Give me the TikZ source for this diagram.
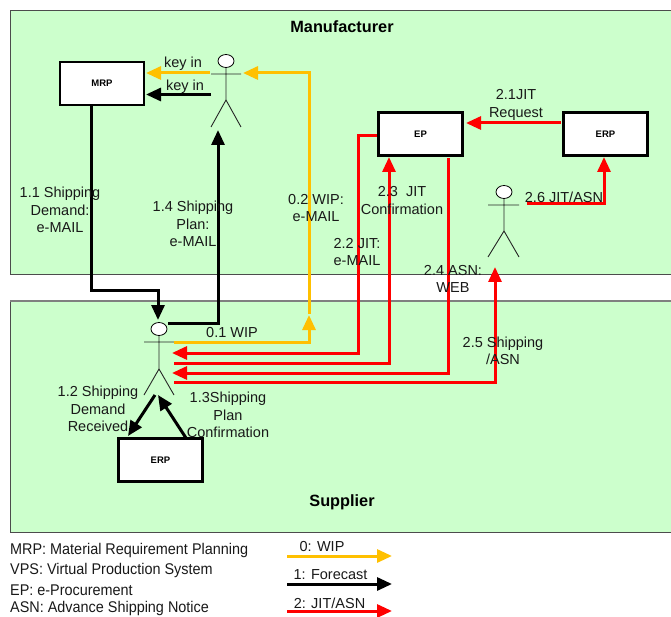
\documentclass[tikz,border=0pt]{standalone}
\usepackage{fontspec}
\setmainfont{Liberation Sans}
\usetikzlibrary{arrows.meta,shapes.geometric}
\definecolor{panelgreen}{HTML}{CCFFCC}
\definecolor{wipyellow}{HTML}{FFC000}
\definecolor{jitred}{HTML}{FF0000}
\tikzset{
  panel/.style={draw=black!70,fill=panelgreen,line width=1pt},
  sysbox/.style={draw=black,fill=white,line width=2.8pt,inner sep=0pt,font=\fontsize{9.5}{10}\selectfont\bfseries},
  lbl/.style={inner sep=0pt,align=center,text=black!90,font=\fontsize{14.5}{17.6}\selectfont},
  ttl/.style={inner sep=0pt,font=\fontsize{16.3}{18}\selectfont\bfseries},
  legtxt/.style={inner sep=0pt,anchor=west,text=black!90,xscale=0.93,transform shape,font=\fontsize{15.5}{18}\selectfont},
  head/.style={draw=black,fill=white,ellipse,line width=.8pt,minimum width=16pt,minimum height=13pt,inner sep=0pt},
  actor/.style={draw=black!85,line width=.9pt},
  flow/.style={line width=3pt,-{Triangle[length=15pt,width=13pt]}},
  black flow/.style={flow,draw=black},
  yellow flow/.style={flow,draw=wipyellow},
  red flow/.style={flow,draw=jitred},
}
\begin{document}
\begin{tikzpicture}[x=1pt,y=-1pt]
\useasboundingbox (0,0) rectangle (671,617);
% panels
\path[panel] (10,11) rectangle (690,275);
\path[panel] (10,301) rectangle (690,532);
\draw[black!50,line width=1.2pt] (10,301) -- (671,301);
\node[ttl] (mfr) at (342,27) {Manufacturer};
\node[ttl] (sup) at (342,502) {Supplier};
% boxes
\node[sysbox,minimum width=84pt,minimum height=43pt] (mrp) at (102,83.5) {MRP};
\node[sysbox,minimum width=84pt,minimum height=43pt] (ep) at (420.5,134) {EP};
\node[sysbox,minimum width=84pt,minimum height=43pt] (erpm) at (605.5,134) {ERP};
\node[sysbox,minimum width=84pt,minimum height=43pt] (erps) at (160.5,460) {ERP};
% actors
\node[head] (ha) at (226,61) {};
\coordinate (aL) at (211,74); \coordinate (aR) at (241,74);
\coordinate (aH) at (226,100);
\coordinate (aF1) at (211,127); \coordinate (aF2) at (241,127);
\draw[actor] (ha.south) -- (aH) (aL) -- (aR) (aF1) -- (aH) -- (aF2);
\node[head] (hb) at (504,192) {};
\coordinate (bL) at (488,205); \coordinate (bR) at (519,205);
\coordinate (bH) at (504,231);
\coordinate (bF1) at (488,257); \coordinate (bF2) at (519,257);
\draw[actor] (hb.south) -- (bH) (bL) -- (bR) (bF1) -- (bH) -- (bF2);
\node[head] (hc) at (159,329) {};
\coordinate (cL) at (144,342); \coordinate (cR) at (174,342);
\coordinate (cH) at (159,369);
\coordinate (cF1) at (144,395); \coordinate (cF2) at (174,395);
\draw[actor] (hc.south) -- (cH) (cL) -- (cR) (cF1) -- (cH) -- (cF2);
% free ends
\coordinate (y1a) at (210,73); \coordinate (y1b) at (146,73);
\coordinate (k1a) at (211,94.5); \coordinate (k1b) at (146,94.5);
\coordinate (wipTip) at (309,315);
\coordinate (wip2) at (309,314);
\coordinate (wipEnd) at (243,73);
\coordinate (d1) at (91,106); \coordinate (d2) at (91,290); \coordinate (d3) at (158,290); \coordinate (d4) at (158,320);
\coordinate (p1) at (168,323.5); \coordinate (p2) at (218,323.5); \coordinate (p3) at (218,130);
\coordinate (r1a) at (561,123); \coordinate (r1b) at (466,123);
\coordinate (r2a) at (377,136); \coordinate (r2b) at (358,136); \coordinate (r2c) at (358,353); \coordinate (r2d) at (172,353);
\coordinate (r3a) at (174,363); \coordinate (r3b) at (389,363); \coordinate (r3c) at (389,157);
\coordinate (r4a) at (448,158); \coordinate (r4b) at (448,373); \coordinate (r4c) at (172,373);
\coordinate (r5a) at (174,382.5); \coordinate (r5b) at (495,382.5); \coordinate (r5c) at (495,267);
\coordinate (r6a) at (527,204); \coordinate (r6b) at (604,204); \coordinate (r6c) at (604,157);
\coordinate (s1a) at (155,395); \coordinate (s1b) at (128,436);
\coordinate (s2a) at (186,438); \coordinate (s2b) at (158,395);
% connectors
\draw[yellow flow] (y1a) -- (y1b);
\draw[black flow] (k1a) -- (k1b);
\draw[yellow flow] (cR) -- (309,342) -- (wipTip);
\draw[yellow flow] (wip2) -- (309,73) -- (wipEnd);
\draw[black flow] (d1) -- (d2) -- (d3) -- (d4);
\draw[black flow] (p1) -- (p2) -- (p3);
\draw[black flow] (s1a) -- (s1b);
\draw[black flow] (s2a) -- (s2b);
\draw[red flow] (r1a) -- (r1b);
\draw[red flow] (r2a) -- (r2b) -- (r2c) -- (r2d);
\draw[red flow] (r3a) -- (r3b) -- (r3c);
\draw[red flow] (r4a) -- (r4b) -- (r4c);
\draw[red flow] (r5a) -- (r5b) -- (r5c);
\draw[red flow] (r6a) -- (r6b) -- (r6c);
% labels
\node[lbl] (l11) at (60,210) {1.1 Shipping\\Demand:\\e-MAIL};
\node[lbl] (l14) at (193,224) {1.4 Shipping\\Plan:\\e-MAIL};
\node[lbl] (l02) at (316,208) {0.2 WIP:\\e-MAIL};
\node[lbl] (l22) at (357,252) {2.2 JIT:\\e-MAIL};
\node[lbl] (l23) at (402,200.5) {2.3~~JIT\\Confirmation};
\node[lbl] (l24) at (453,279) {2.4 ASN:\\WEB};
\node[lbl] (l25) at (503,351) {2.5 Shipping\\/ASN};
\node[lbl] (l21) at (516,105) {2.1JIT\\Request};
\node[lbl] (l26) at (564,197) {2.6 JIT/ASN};
\node[lbl] (k1) at (183,64) {key in};
\node[lbl] (k2) at (185,87) {key in};
\node[lbl] (l01) at (232,333) {0.1 WIP};
\node[lbl] (l12) at (98,409) {1.2 Shipping\\Demand\\Received};
\node[lbl] (l13) at (228,415) {1.3Shipping\\Plan\\Confirmation};
% legend
\node[legtxt] (m1) at (10,550) {MRP: Material Requirement Planning};
\node[legtxt] (m2) at (10,570) {VPS: Virtual Production System};
\node[legtxt] (m3) at (10,590) {EP: e-Procurement};
\node[legtxt] (m4) at (10,608.5) {ASN: Advance Shipping Notice};
\node[lbl] (t0) at (322,547) {0: WIP};
\node[lbl] (t1) at (330.5,575) {1: Forecast};
\node[lbl] (t2) at (329.5,603) {2: JIT/ASN};
\coordinate (g0a) at (287,556); \coordinate (g0b) at (392,556);
\coordinate (g1a) at (287,584); \coordinate (g1b) at (392,584);
\coordinate (g2a) at (287,611); \coordinate (g2b) at (392,611);
\draw[yellow flow] (g0a) -- (g0b);
\draw[black flow] (g1a) -- (g1b);
\draw[red flow] (g2a) -- (g2b);
\end{tikzpicture}
\end{document}
